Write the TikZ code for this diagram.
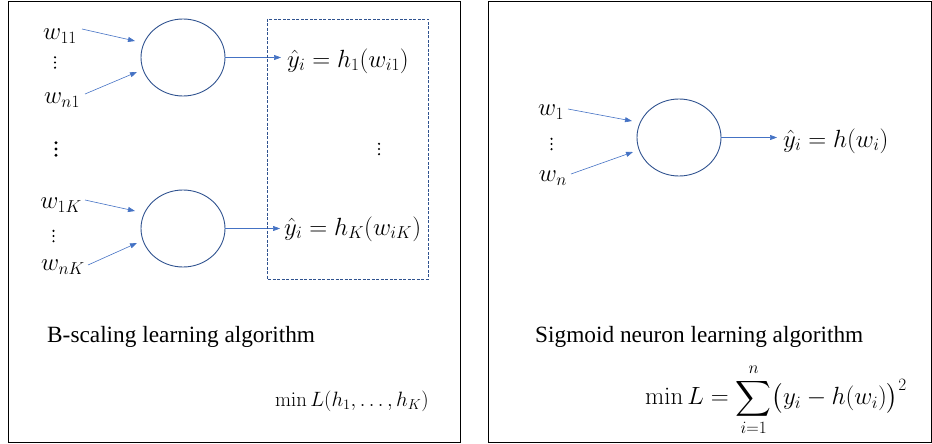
\documentclass[tikz,border=0pt]{standalone}
\usepackage{amsmath}
\usepackage[no-math]{fontspec}
\newfontfamily\timesfont{Liberation Serif}
\usetikzlibrary{arrows.meta,shapes.geometric}
\definecolor{cdark}{HTML}{2F528F}
\definecolor{clight}{HTML}{4472C4}
\tikzset{
  panel/.style={draw=black, line width=0.8pt},
  neuron/.style={draw=cdark, line width=0.9pt, ellipse, minimum width=84pt, minimum height=77pt, inner sep=0pt},
  conn/.style={draw=clight, line width=0.6pt, -{Triangle[length=7pt,width=5pt]}},
  mlab/.style={inner sep=0pt, font=\fontsize{24}{28}\selectfont},
  minlab/.style={inner sep=0pt, font=\fontsize{21.3}{26}\selectfont},
  slab/.style={inner sep=0pt, font=\fontsize{24.2}{29}\selectfont},
  tlab/.style={inner sep=0pt, font=\timesfont\fontsize{23.3}{27}\selectfont},
  dashbox/.style={draw=cdark, line width=0.8pt, dash pattern=on 3pt off 1.5pt},
}
\newcommand{\mydots}[3]{% x, y(center), radius
  \foreach \k in {-1,0,1} {\fill (#1,#2+\k*5.2) circle (#3);}
}
\newcommand{\bigdots}[3]{%
  \foreach \k in {-1,0,1} {\fill (#1,#2+\k*6.3) circle (#3);}
}
\begin{document}
\begin{tikzpicture}[x=1pt,y=-1pt]
\useasboundingbox (0,0) rectangle (932,444);
% panels
\draw[panel] (8,1.5) rectangle (460,442.5);
\draw[panel] (488,1.5) rectangle (931,442.5);
% ---- left panel ----
\node[neuron] (n1) at (183,57.5) {};
\node[neuron] (n2) at (183,228.5) {};
\node[mlab] (w11) at (60,36) {$w_{11}$};
\mydots{55}{62.5}{1.2}
\node[mlab] (wn1) at (62,100) {$w_{n1}$};
\bigdots{56}{149}{1.6}
\node[mlab] (w1K) at (61,205) {$w_{1K}$};
\mydots{53.5}{236}{1.2}
\node[mlab] (wnK) at (63,267) {$w_{nK}$};
\coordinate (a1s) at (82,29);  \coordinate (a1e) at (135,41);
\coordinate (a2s) at (85,94);  \coordinate (a2e) at (137,72);
\coordinate (a3s) at (85,200); \coordinate (a3e) at (135,211);
\coordinate (a4s) at (88,265); \coordinate (a4e) at (137,243);
\draw[conn] (a1s) -- (a1e);
\draw[conn] (a2s) -- (a2e);
\draw[conn] (a3s) -- (a3e);
\draw[conn] (a4s) -- (a4e);
\node[mlab, anchor=west] (y1) at (287,61) {$\hat{y}_i = h_1(w_{i1})$};
\node[mlab, anchor=west] (yK) at (284,229) {$\hat{y}_i = h_K(w_{iK})$};
\coordinate (o1) at (281,57.5);
\coordinate (o2) at (280,228.5);
\draw[conn] (n1.east) -- (o1);
\draw[conn] (n2.east) -- (o2);
\draw[dashbox] (267,19) rectangle (428,279);
\mydots{379}{149}{1.2}
\node[tlab, anchor=west] (tb) at (47,337) {B-scaling learning algorithm};
\node[minlab, anchor=east] (mL) at (429,401) {$\min L(h_1,\ldots,h_K)$};
% ---- right panel ----
\node[neuron] (n3) at (679,137.5) {};
\node[mlab] (w1) at (551,112) {$w_1$};
\mydots{551.5}{144}{1.2}
\node[mlab] (wn) at (553,178) {$w_n$};
\coordinate (b1s) at (568,109); \coordinate (b1e) at (632,121);
\coordinate (b2s) at (571,174); \coordinate (b2e) at (633,152);
\draw[conn] (b1s) -- (b1e);
\draw[conn] (b2s) -- (b2e);
\coordinate (o3) at (777,137.5);
\draw[conn] (n3.east) -- (o3);
\node[mlab, anchor=west] (yh) at (783,141) {$\hat{y}_i = h(w_i)$};
\node[tlab, anchor=west] (ts) at (535,337) {Sigmoid neuron learning algorithm};
\node[slab, anchor=east] (sumf) at (907,400) {$\displaystyle \min L = \sum_{i=1}^{n}\bigl(y_i - h(w_i)\bigr)^2$};
\end{tikzpicture}
\end{document}
